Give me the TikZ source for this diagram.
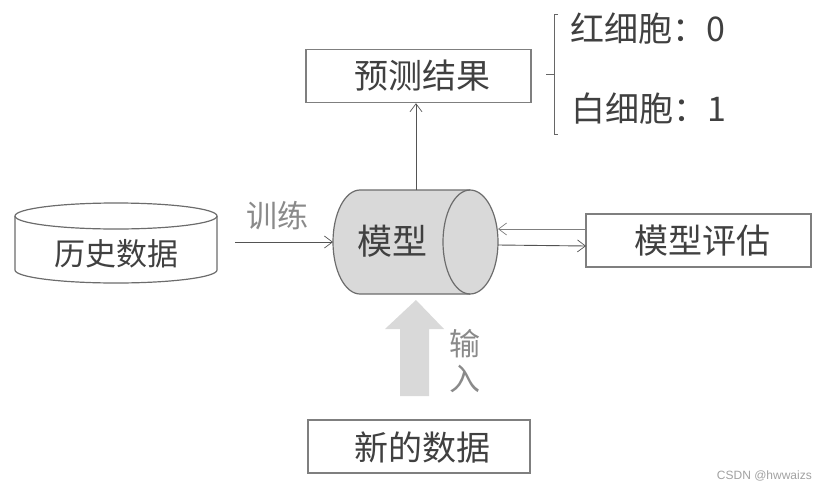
\documentclass[tikz,border=0pt]{standalone}
\usepackage{fontspec}
\setmainfont{Noto Sans CJK SC}
\newfontfamily\lat{Liberation Sans}
\usetikzlibrary{arrows.meta}
\definecolor{txt}{HTML}{404040}
\definecolor{lbl}{HTML}{8A8A8A}
\definecolor{edge}{HTML}{7F7F7F}
\definecolor{fillg}{HTML}{D9D9D9}
\tikzset{
  box/.style={draw=edge,line width=1.4pt,minimum width=#1,minimum height=53pt,inner sep=0pt},
  big/.style={text=txt,inner sep=0pt,font=\fontsize{34}{34}\selectfont},
  lab/.style={text=lbl,inner sep=0pt,font=\fontsize{31}{31}\selectfont},
  conn/.style={draw=#1,line width=0.9pt,-{Straight Barb[length=8pt,width=12pt,line width=0.7pt]}},
  shapeline/.style={draw=#1,line width=1.2pt}
}
\begin{document}
\begin{tikzpicture}[x=1pt,y=-1pt]
\useasboundingbox (0,0) rectangle (828,490);
% model cylinder
\fill[fillg] (360,190) -- (470,190) arc[start angle=-90,end angle=90,x radius=28,y radius=52] -- (360,294) arc[start angle=90,end angle=270,x radius=27,y radius=52] -- cycle;
\draw[shapeline=edge!85!black] (360,190) -- (470,190) arc[start angle=-90,end angle=90,x radius=28,y radius=52] -- (360,294) arc[start angle=90,end angle=270,x radius=27,y radius=52] -- cycle;
\draw[shapeline=edge!85!black] (470,190) arc[start angle=-90,end angle=-270,x radius=27,y radius=52];
\coordinate (mT) at (416,190);
\coordinate (mL) at (333,242);
\coordinate (mR1) at (498,229);
\coordinate (mR2) at (498,245);
\node[big,font=\fontsize{35}{35}\selectfont] (model) at (392.5,241) {模型};
% database cylinder
\draw[shapeline=edge!85!black] (15,216) arc[start angle=180,end angle=-180,x radius=101,y radius=13];
\draw[shapeline=edge!85!black] (15,216) -- (15,270) arc[start angle=180,end angle=0,x radius=101,y radius=13] -- (217,216);
\node[big,font=\fontsize{31}{31}\selectfont] (hist) at (116,254) {历史数据};
% boxes
\node[box=225pt] (pred) at (418.5,76) {};
\node[big] (predt) at (422.5,76) {预测结果};
\node[box=225pt] (eval) at (698.5,240.5) {};
\node[big] (evalt) at (702.5,240.5) {模型评估};
\node[box=222pt] (new) at (419,446.5) {};
\node[big] (newt) at (422,448) {新的数据};
% bracket
\coordinate (bT) at (558,14);
\coordinate (bB) at (558,134);
\coordinate (bM) at (546,74);
\draw[draw=txt!80,line width=1pt] (bT) -- (554,14) -- (554,134) -- (bB);
\draw[draw=txt!80,line width=1pt] (bM) -- (554,74);
\node[big,anchor=west] (red) at (570,29) {红细胞：0};
\node[big,anchor=west] (white) at (571,109) {白细胞：1};
% connectors
\draw[conn=txt!90] (mT) -- (mT |- pred.south);
\coordinate (tS) at (235,242);
\draw[conn=txt!90] (tS) -- (mL);
\draw[conn=edge] (eval.west |- mR1) -- (mR1);
\draw[conn=txt!90] (mR2) -- (586,246);
\node[lab] (train) at (277.5,216) {训练};
% block arrow
\fill[fillg] (416,300) -- (444,329) -- (429,329) -- (429,396) -- (400,396) -- (400,329) -- (385,329) -- cycle;
\node[lab] (in1) at (465,344) {输};
\node[lab] (in2) at (465,379) {入};
\node[anchor=east,inner sep=0pt,text=lbl!80,font=\lat\fontsize{12}{12}\selectfont] (mark) at (812,476) {CSDN @hwwaizs};
\end{tikzpicture}
\end{document}
